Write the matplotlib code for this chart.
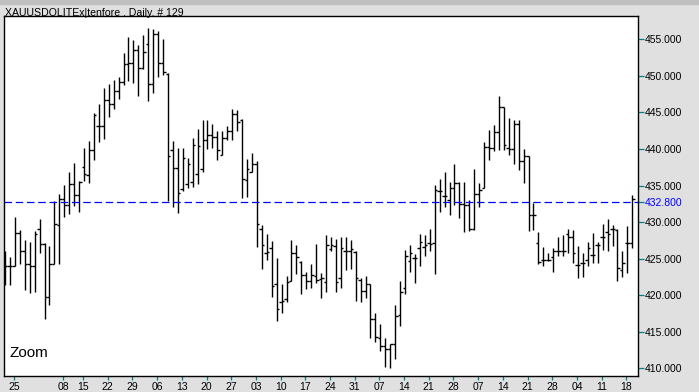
import matplotlib
matplotlib.use("Agg")
import matplotlib.pyplot as plt
import pandas as pd

# ── Data (XAUUSD daily bars, Oct 2004 – Apr 2005) ────────────────────────────
opens = [
    424.0, 424.0, 424.0, 428.5, 426.1, 424.3, 424.0, 429.0, 427.0, 419.7,
    424.3, 429.6, 433.1, 432.3, 435.2, 433.7, 437.6, 436.5, 439.9, 443.1,
    443.1, 446.7, 446.1, 447.9, 449.2, 451.6, 451.7, 453.5, 451.1, 454.3,
    448.9, 455.7, 451.7, 450.3, 439.9, 437.4, 434.5, 435.2, 435.5, 436.6,
    437.3, 441.2, 441.9, 441.6, 439.2, 441.5, 442.4, 444.8, 443.9, 435.7,
    436.9, 437.9, 429.0, 425.7, 426.4, 421.5, 419.1, 419.5, 421.9, 425.8,
    424.6, 422.7, 422.0, 422.6, 422.2, 421.8, 426.3, 426.7, 422.4, 426.1,
    426.1, 425.9, 422.1, 420.6, 421.5, 416.8, 414.1, 413.0, 412.6, 413.3,
    417.3, 421.0, 424.7, 425.1, 426.4, 426.6, 427.1, 427.1, 434.3, 433.6,
    433.0, 434.6, 435.4, 432.5, 432.3, 429.1, 433.9, 434.6, 440.3, 440.2,
    442.3, 445.7, 440.2, 440.0, 443.4, 438.4, 439.0, 430.9, 427.1, 424.8,
    424.8, 425.2, 426.1, 426.0, 428.4, 428.0, 424.1, 424.4, 424.8, 425.5,
    426.8, 428.0, 428.6, 429.0, 428.9, 423.4, 427.1, 427.1,
]
highs = [
    426.0, 425.2, 430.7, 428.9, 427.6, 427.3, 428.8, 430.4, 427.2, 426.7,
    432.9, 433.8, 435.1, 436.8, 438.1, 435.6, 440.2, 441.1, 444.9, 446.1,
    448.3, 448.9, 449.5, 449.8, 453.1, 455.3, 454.9, 454.2, 455.6, 456.6,
    456.4, 456.1, 455.0, 450.4, 441.1, 440.1, 440.1, 438.7, 441.5, 442.7,
    444.0, 443.9, 443.4, 442.4, 442.4, 443.1, 445.4, 445.3, 444.1, 438.6,
    439.5, 438.3, 429.6, 428.3, 427.4, 425.1, 421.5, 422.6, 427.6, 426.9,
    424.7, 423.2, 424.2, 427.0, 423.0, 428.2, 427.9, 427.7, 427.9, 427.9,
    427.5, 426.0, 422.4, 422.6, 421.5, 417.5, 416.0, 414.2, 413.3, 418.7,
    421.9, 426.2, 426.9, 425.6, 428.4, 428.2, 429.0, 435.1, 435.9, 436.8,
    435.5, 438.0, 435.5, 435.5, 433.0, 437.2, 435.3, 441.0, 442.6, 443.3,
    447.2, 445.7, 444.3, 443.9, 443.9, 440.0, 439.0, 432.6, 428.7, 426.6,
    425.7, 426.4, 428.0, 428.2, 429.1, 428.9, 426.7, 425.7, 427.3, 428.5,
    427.3, 429.7, 430.4, 429.6, 429.1, 426.1, 429.4, 433.7,
]
lows = [
    421.4, 421.4, 424.0, 424.3, 420.7, 420.3, 420.4, 425.7, 416.8, 418.6,
    424.3, 424.2, 430.7, 431.1, 432.2, 431.4, 435.6, 435.3, 438.5, 440.9,
    441.4, 444.4, 445.5, 446.9, 448.7, 449.3, 449.0, 447.3, 451.0, 446.6,
    447.6, 449.8, 450.1, 432.9, 432.0, 431.3, 434.2, 434.7, 434.8, 435.2,
    436.8, 440.0, 440.1, 438.5, 439.2, 441.2, 441.2, 442.5, 433.3, 433.4,
    436.8, 426.6, 423.6, 424.8, 419.8, 416.4, 417.5, 419.1, 421.9, 422.9,
    420.2, 420.8, 421.0, 421.7, 419.6, 420.5, 426.1, 420.5, 421.0, 423.5,
    423.6, 419.2, 419.1, 419.6, 414.2, 413.6, 412.3, 410.2, 410.0, 411.3,
    415.8, 420.2, 423.2, 421.7, 424.0, 425.4, 426.0, 422.9, 431.4, 432.0,
    430.9, 432.3, 430.5, 428.6, 428.8, 428.9, 432.0, 434.6, 438.5, 439.7,
    439.9, 439.9, 439.2, 438.0, 437.1, 435.3, 428.8, 428.9, 424.2, 424.0,
    424.7, 423.2, 425.4, 425.4, 425.8, 424.4, 422.3, 422.5, 424.0, 424.4,
    424.4, 426.2, 426.1, 426.7, 421.9, 422.5, 423.0, 426.4,
]
closes = [
    424.0, 424.0, 428.5, 426.1, 424.3, 424.0, 428.3, 427.0, 419.7, 424.3,
    429.7, 433.1, 432.3, 435.2, 433.7, 435.5, 436.6, 439.9, 444.6, 443.1,
    446.7, 446.1, 447.9, 449.2, 451.6, 451.7, 453.5, 451.1, 453.3, 448.9,
    455.7, 451.7, 450.5, 439.0, 437.4, 434.0, 438.7, 438.0, 440.5, 440.4,
    441.2, 441.9, 441.7, 439.8, 441.5, 442.4, 444.8, 443.7, 435.9, 437.2,
    437.9, 429.7, 426.9, 425.9, 421.3, 418.1, 419.2, 421.8, 425.8, 425.2,
    422.7, 422.0, 422.8, 422.1, 422.4, 426.9, 426.9, 421.8, 426.4, 426.1,
    426.3, 422.3, 420.6, 421.5, 416.8, 414.3, 413.0, 412.6, 413.3, 417.1,
    420.5, 425.3, 425.7, 425.1, 427.3, 426.9, 427.0, 434.4, 434.3, 433.6,
    434.6, 435.4, 432.5, 432.3, 429.1, 433.9, 434.4, 440.3, 440.2, 442.3,
    445.7, 440.6, 440.0, 443.4, 438.4, 439.0, 430.9, 430.9, 424.6, 424.8,
    424.8, 426.1, 426.1, 426.1, 428.0, 425.7, 424.1, 424.4, 426.4, 425.5,
    426.8, 428.0, 428.3, 429.0, 423.7, 424.4, 427.1, 433.1,
]

# trading days shown (11 Nov 2004 is absent from the feed)
dates = pd.bdate_range("2004-10-21", "2005-04-19").drop(pd.Timestamp("2004-11-11"))
skip_labels = [pd.Timestamp("2004-11-01")]

last_price = 432.8
y_ticks = [410, 415, 420, 425, 430, 435, 440, 445, 450, 455]
title = "XAUUSDOLITEx|tenfore . Daily. # 129"

BG = "#e0e0e0"
TEAL = "#008080"
FONT = "Liberation Sans"

# ── Figure ────────────────────────────────────────────────────────────────────
W, H = 699, 392
fig = plt.figure(figsize=(W / 100, H / 100), dpi=100, facecolor=BG)
fig.patches.append(plt.Rectangle((0, 1 - 4 / H), 1, 4 / H, transform=fig.transFigure,
                                 color="#c0c0c0", zorder=0))
ax = fig.add_axes([4 / W, 16 / H, 634 / W, 360 / H], facecolor="white")

x = list(range(len(closes)))
ax.vlines(x, lows, highs, color="black", linewidth=1.0)
ax.hlines(opens, [i - 0.5 for i in x], x, color="black", linewidth=1.0)
ax.hlines(closes, x, [i + 0.5 for i in x], color="black", linewidth=1.0)

ax.axhline(last_price, color="#0000ff", linewidth=0.9, linestyle=(0, (6, 3)))

ax.set_xlim(-0.2, 128.16)
ax.set_ylim(408.94, 458.19)

# right-hand price scale
ax.yaxis.tick_right()
ax.set_yticks(y_ticks + [last_price])
ax.set_yticklabels([f"{v:.3f}" for v in y_ticks] + [f"{last_price:.3f}"],
                   fontfamily=FONT, fontsize=7.5)
ax.tick_params(axis="y", colors=TEAL, length=4, width=0.9, pad=1.2, labelcolor="black")
ax.get_yticklabels()[-1].set_color("#0000ff")

# weekly date ticks (Mondays)
tick_pos, tick_lab = [], []
for i, d in enumerate(dates):
    if d.weekday() == 0 and d not in skip_labels:
        tick_pos.append(i - 0.2)
        tick_lab.append(d.strftime("%d"))
ax.set_xticks(tick_pos)
ax.set_xticklabels(tick_lab, fontfamily=FONT, fontsize=7.5)
ax.tick_params(axis="x", colors=TEAL, length=3, width=0.9, pad=1.0, labelcolor="black")

for s in ax.spines.values():
    s.set_color("black")
    s.set_linewidth(1.0)

fig.text(5 / W, 1 - 15.5 / H, title, fontfamily=FONT, fontsize=7.6, va="baseline")
ax.text(6 / 634, 19 / 360, "Zoom", transform=ax.transAxes, fontfamily=FONT,
        fontsize=11, va="baseline")

fig.savefig("out.png", dpi=100, facecolor=BG)
